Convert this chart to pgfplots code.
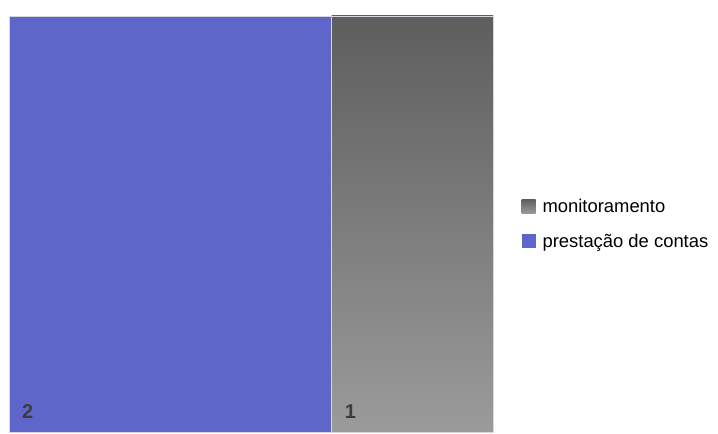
\documentclass[border=0pt]{standalone}
\usepackage{pgfplots}
\pgfplotsset{compat=1.18}
\usepackage{fontspec}
\setmainfont{Liberation Sans}
\definecolor{tmblue}{RGB}{95,102,201}
\definecolor{tmgraytop}{RGB}{94,94,94}
\definecolor{tmgraybot}{RGB}{155,155,155}
\definecolor{tmnum}{RGB}{60,60,60}
\definecolor{tmedge}{RGB}{215,215,225}
\begin{document}
\begin{tikzpicture}
\path[use as bounding box] (0,0) rectangle (718bp,434bp);
\begin{axis}[
  at={(9bp,2bp)}, anchor=south west,
  scale only axis, width=484bp, height=416bp,
  xmin=0, xmax=3, ymin=0, ymax=1,
  hide axis,
  clip=false,
  legend style={at={(1.0525,0.5)}, anchor=west, draw=none, fill=none,
    font=\fontsize{18.4bp}{22bp}\selectfont, row sep=20bp,
    nodes={inner xsep=7bp, inner ysep=0bp}},
  legend cell align=left,
  legend image code/.code={\path[#1, draw=none] (0bp,-7bp) rectangle (14bp,7bp);},
]
\addplot[fill=tmblue, draw=tmedge, line width=0.6bp, forget plot] coordinates {(0,1) (2,1)} \closedcycle;
\addplot[top color=tmgraytop, bottom color=tmgraybot, draw=tmedge, line width=0.6bp, forget plot] coordinates {(2,1) (3,1)} \closedcycle;
\addlegendimage{top color=tmgraytop, bottom color=tmgraybot}
\addlegendentry{monitoramento}
\addlegendimage{fill=tmblue}
\addlegendentry{prestação de contas}
\node[anchor=south west, inner sep=0pt, xshift=13bp, yshift=13bp, text=tmnum, font=\fontsize{20bp}{24bp}\selectfont\bfseries] at (axis cs:0,0) {2};
\node[anchor=south west, inner sep=0pt, xshift=13bp, yshift=13bp, text=tmnum, font=\fontsize{20bp}{24bp}\selectfont\bfseries] at (axis cs:2,0) {1};
\end{axis}
\end{tikzpicture}
\end{document}
